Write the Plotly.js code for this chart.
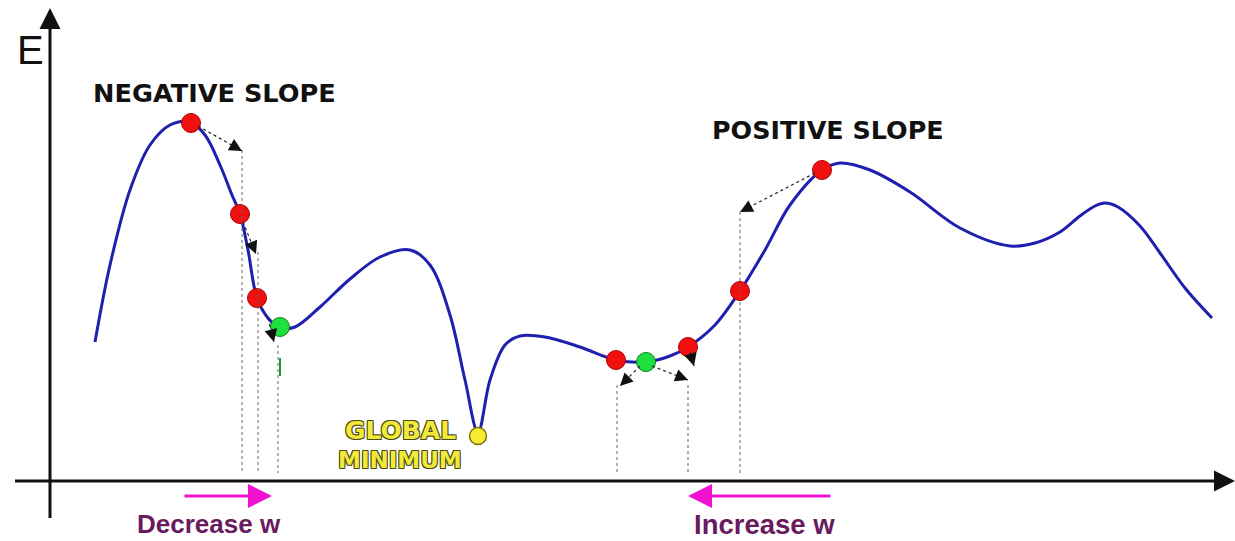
<!DOCTYPE html>
<html><head><meta charset="utf-8">
<script src="https://cdn.plot.ly/plotly-3.0.1.min.js"></script>
<style>html,body{margin:0;padding:0;background:#fff}#chart{width:1235px;height:541px}</style>
</head><body><div id="chart"></div>
<script>
// Error curve E(w) (diagram coordinates)
const curveW = [95,110,130,150,170,190,205,220,232,240,248,257,268,280,295,320,350,380,410,430,450,465,478,490,505,520,545,580,616,646,670,688,715,740,765,790,822,840,870,910,960,1010,1035,1060,1080,1095,1105,1118,1140,1160,1185,1212];
const curveE = [342,265,190,145,125,122,135,165,195,214,250,298,318,328,327,307,279,257,250,265,315,380,432,380,345,336,337,347,360,362,356,347,325,291,250,205,170,163,170,192,228,246,243,232,216,206,203,207,226,253,288,318];
// Points
const redW = [191,240,257,616,688,740,822];
const redE = [123,214,298,360,347,291,170];
const greenW = [280,646];
const greenE = [327,362];
const yellowW = [478];
const yellowE = [436];
// Dotted drop lines: x, top
const dropW = [242,258,278,617,688,740];
const dropTop = [150,252,345,385,385,212];
const axisE = 473;
// Gradient-step arrows: start (w,E) -> end (w,E)
const arrStartW = [198,243,268,640,652,690,815];
const arrStartE = [126,222,318,366,366,352,173];
const arrEndW = [242,256,274,620,688,694,740];
const arrEndE = [151,254,342,386,380,366,212];
// Labels
const labels = ["NEGATIVE SLOPE","POSITIVE SLOPE"];

const shapes = [];
// axes
shapes.push({type:'line',xref:'x',yref:'y',x0:15,x1:1225,y0:481,y1:481,line:{color:'#111',width:3}});
shapes.push({type:'line',xref:'x',yref:'y',x0:50,x1:50,y0:518,y1:22,line:{color:'#111',width:3}});
// drop lines
dropW.forEach((w,i)=>shapes.push({type:'line',xref:'x',yref:'y',x0:w,x1:w,y0:dropTop[i],y1:axisE,line:{color:'#666',width:1,dash:'dot'}}));
// small green tick
shapes.push({type:'line',xref:'x',yref:'y',x0:280,x1:280,y0:358,y1:376,line:{color:'#1a9a2a',width:2}});
// arrow shafts (dotted)
arrStartW.forEach((w,i)=>shapes.push({type:'line',xref:'x',yref:'y',x0:w,x1:arrEndW[i],y0:arrStartE[i],y1:arrEndE[i],line:{color:'#222',width:1.2,dash:'dot'}}));

const annotations = [];
// arrowheads (short solid stub so only the head shows)
arrStartW.forEach((w,i)=>{
  const dx=arrEndW[i]-w, dy=arrEndE[i]-arrStartE[i];
  const L=Math.hypot(dx,dy);
  annotations.push({x:arrEndW[i],y:arrEndE[i],ax:arrEndW[i]-dx/L*13,ay:arrEndE[i]-dy/L*13,xref:'x',yref:'y',axref:'x',ayref:'y',text:'',showarrow:true,arrowhead:2,arrowsize:1.6,arrowwidth:1.6,arrowcolor:'#111',standoff:0,borderpad:0});
});
// axis arrowheads
annotations.push({x:1235,y:481,ax:1220,ay:481,xref:'x',yref:'y',axref:'x',ayref:'y',text:'',showarrow:true,arrowhead:2,arrowsize:1.4,arrowwidth:3,arrowcolor:'#111'});
annotations.push({x:50,y:8,ax:50,ay:24,xref:'x',yref:'y',axref:'x',ayref:'y',text:'',showarrow:true,arrowhead:2,arrowsize:1.4,arrowwidth:3,arrowcolor:'#111'});
// magenta arrows
annotations.push({x:272,y:496,ax:183,ay:496,xref:'x',yref:'y',axref:'x',ayref:'y',text:'',showarrow:true,arrowhead:2,arrowsize:1.6,arrowwidth:3,arrowcolor:'#f010d0'});
annotations.push({x:688,y:496,ax:832,ay:496,xref:'x',yref:'y',axref:'x',ayref:'y',text:'',showarrow:true,arrowhead:2,arrowsize:1.6,arrowwidth:3,arrowcolor:'#f010d0'});
// texts
annotations.push({x:30,y:50,xref:'x',yref:'y',text:'E',showarrow:false,font:{family:'Liberation Sans Narrow, Liberation Sans, Arial',size:40,color:'#111'}});
annotations.push({x:214,y:93,xref:'x',yref:'y',text:labels[0],showarrow:false,font:{family:'DejaVu Sans',size:25.6,color:'#111',weight:'bold'}});
annotations.push({x:828,y:130,xref:'x',yref:'y',text:labels[1],showarrow:false,font:{family:'DejaVu Sans',size:25.4,color:'#111',weight:'bold'}});
const outline='1px 1px 0 #4a4a10, -1px -1px 0 #4a4a10, 1px -1px 0 #4a4a10, -1px 1px 0 #4a4a10';
annotations.push({x:400,y:430,xref:'x',yref:'y',text:'GLOBAL',showarrow:false,font:{family:'DejaVu Sans',size:25,color:'#f2ea3a',weight:'bold',shadow:outline}});
annotations.push({x:400,y:460,xref:'x',yref:'y',text:'MINIMUM',showarrow:false,font:{family:'DejaVu Sans',size:23,color:'#f2ea3a',weight:'bold',shadow:outline}});
annotations.push({x:209,y:524,xref:'x',yref:'y',text:'Decrease w',showarrow:false,font:{family:'Liberation Sans, Arial',size:26,color:'#6a1a5e',weight:'bold'}});
annotations.push({x:764,y:524,xref:'x',yref:'y',text:'Increase w',showarrow:false,font:{family:'Liberation Sans, Arial',size:27.5,color:'#6a1a5e',weight:'bold'}});

const traces = [
  {x:curveW,y:curveE,mode:'lines',line:{color:'#1f1fb0',width:3,shape:'spline',smoothing:1.0},hoverinfo:'skip'},
  {x:redW,y:redE,mode:'markers',marker:{size:19,color:'#f01010',line:{color:'#b00000',width:1}},hoverinfo:'skip'},
  {x:greenW,y:greenE,mode:'markers',marker:{size:19,color:'#20e040',line:{color:'#108020',width:1}},hoverinfo:'skip'},
  {x:yellowW,y:yellowE,mode:'markers',marker:{size:17,color:'#f5ec30',line:{color:'#807010',width:1.5}},hoverinfo:'skip'}
];
const layout = {
  width:1235,height:541,margin:{l:0,r:0,t:0,b:0},
  paper_bgcolor:'#fff',plot_bgcolor:'#fff',showlegend:false,
  xaxis:{range:[0,1235],visible:false,fixedrange:true},
  yaxis:{range:[541,0],visible:false,fixedrange:true},
  shapes:shapes,annotations:annotations
};
Plotly.newPlot('chart',traces,layout,{displayModeBar:false,staticPlot:true});
</script></body></html>
